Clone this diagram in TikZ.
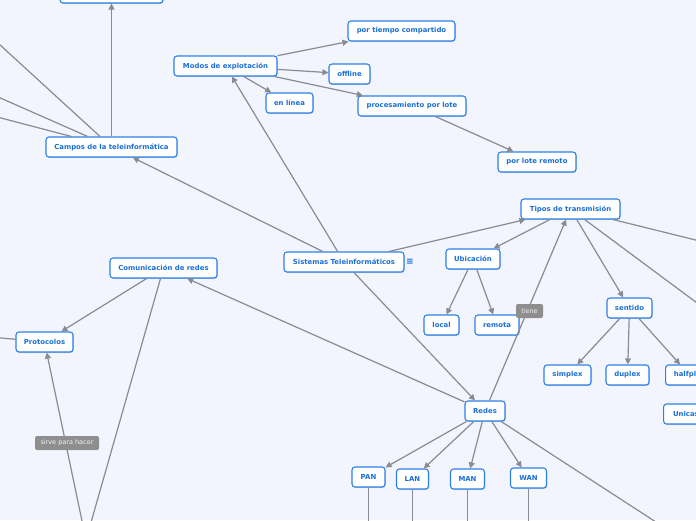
\documentclass[tikz,border=0pt]{standalone}
\usepackage{fontspec}
\setmainfont{DejaVu Sans}
\usetikzlibrary{arrows.meta,shadows}
\definecolor{bg}{HTML}{F2F5FD}
\definecolor{nodeblue}{HTML}{2E80E8}
\definecolor{txtblue}{HTML}{1A6FD8}
\definecolor{edgegray}{HTML}{8A8B91}
\definecolor{lblgray}{HTML}{8E8E8E}
\tikzset{
 topic/.style={draw=nodeblue, line width=1.1pt, fill=white, rounded corners=3pt,
   minimum height=20pt, inner xsep=0pt, inner ysep=0pt,
   font=\fontsize{6.9}{8}\selectfont\bfseries, text=txtblue,
   drop shadow={shadow xshift=0.6pt, shadow yshift=-0.9pt, opacity=0.3, fill=nodeblue!60!black}},
 conn/.style={draw=edgegray, line width=1.2pt, -{Triangle[length=6pt,width=6pt]}},
 plain/.style={draw=edgegray, line width=1.2pt},
 tag/.style={fill=lblgray, rounded corners=2pt, minimum height=14pt, inner xsep=0pt,
   inner ysep=0pt, text=white!90!gray, font=\fontsize{6.5}{8}\selectfont}
}
\begin{document}
\begin{tikzpicture}[x=1pt,y=-1pt]
\useasboundingbox (0,0) rectangle (696,520);
\clip (0,0) rectangle (696,520);
\fill[bg] (0,0) rectangle (696,520);
% nodes
\node[topic, minimum width=103pt, minimum height=22pt] (top) at (111.5,-8) {};
\node[topic, minimum width=131pt] (campos) at (111.5,147) {Campos de la teleinformática};
\node[topic, minimum width=103pt] (modos) at (225.5,66) {Modos de explotación};
\node[topic, minimum width=107pt] (tiempo) at (401.5,31) {por tiempo compartido};
\node[topic, minimum width=41pt] (offline) at (349.5,74) {offline};
\node[topic, minimum width=47pt] (linea) at (289.5,103) {en línea};
\node[topic, minimum width=108pt] (proc) at (412,106) {procesamiento por lote};
\node[topic, minimum width=78pt] (remoto) at (537,162) {por lote remoto};
\node[topic, minimum width=120pt] (sis) at (344,262) {Sistemas Teleinformáticos};
\node[text=txtblue, font=\fontsize{9}{9}\selectfont\bfseries, inner sep=0pt] (menu) at (410,262) {≡};
\node[topic, minimum width=99pt] (tipos) at (570.5,209) {Tipos de transmisión};
\node[topic, minimum width=54pt] (ubic) at (473,259) {Ubicación};
\node[topic, minimum width=35pt] (local) at (441.5,325) {local};
\node[topic, minimum width=44pt] (remota) at (497,325) {remota};
\node[topic, minimum width=45pt] (sentido) at (629.5,308) {sentido};
\node[topic, minimum width=47pt] (simplex) at (567.5,375) {simplex};
\node[topic, minimum width=43pt] (duplex) at (627.5,375) {duplex};
\node[topic, minimum width=48pt, anchor=west] (half) at (665,375) {halfplex};
\node[topic, minimum width=48pt, anchor=west] (unicast) at (663,414) {Unicast};
\node[topic, minimum width=107pt] (comu) at (163.5,268) {Comunicación de redes};
\node[topic, minimum width=57pt] (proto) at (44.5,342) {Protocolos};
\node[topic, minimum width=40pt] (redes) at (485,411) {Redes};
\node[topic, minimum width=33pt] (pan) at (368.5,477) {PAN};
\node[topic, minimum width=32pt] (lan) at (412.5,479) {LAN};
\node[topic, minimum width=34pt] (man) at (467.5,479) {MAN};
\node[topic, minimum width=36pt] (wan) at (528.5,478) {WAN};
% off-canvas ends
\coordinate (cA) at (-20,26.6);
\coordinate (cB) at (-20,89);
\coordinate (cC) at (-20,112.5);
\coordinate (pL) at (-20,336);
\coordinate (bot) at (86,540);
\coordinate (pD) at (368.5,540);
\coordinate (lD) at (412.5,540);
\coordinate (mD) at (467.5,540);
\coordinate (wD) at (528.5,540);
\coordinate (rBR) at (680.5,538);
\coordinate (tR1) at (720,320);
\coordinate (tR2) at (740,251);
% connectors
\draw[conn] (campos) -- (top);
\draw[plain] (cA) -- (campos);
\draw[plain] (cB) -- (campos);
\draw[plain] (cC) -- (campos);
\draw[conn] (sis) -- (campos);
\draw[conn] (sis) -- (modos);
\draw[conn] (modos) -- (tiempo);
\draw[conn] (modos) -- (offline);
\draw[conn] (modos) -- (linea);
\draw[conn] (modos) -- (proc);
\draw[conn] (proc) -- (remoto);
\draw[conn] (sis) -- (tipos);
\draw[conn] (sis) -- (redes);
\draw[conn] (tipos) -- (ubic);
\draw[conn] (redes) -- (tipos);
\draw[conn] (tipos) -- (sentido);
\draw[plain] (tipos) -- (tR1);
\draw[plain] (tipos) -- (tR2);
\draw[conn] (ubic) -- (local);
\draw[conn] (ubic) -- (remota);
\draw[conn] (sentido) -- (simplex);
\draw[conn] (sentido) -- (duplex);
\draw[conn] (sentido) -- (half);
\draw[conn] (redes) -- (comu);
\draw[conn] (comu) -- (proto);
\draw[plain] (comu) -- (bot);
\draw[conn] (bot) -- (proto);
\draw[plain] (pL) -- (proto);
\draw[conn] (redes) -- (pan);
\draw[conn] (redes) -- (lan);
\draw[conn] (redes) -- (man);
\draw[conn] (redes) -- (wan);
\draw[plain] (redes) -- (rBR);
\draw[plain] (pan) -- (pD);
\draw[plain] (lan) -- (lD);
\draw[plain] (man) -- (mD);
\draw[plain] (wan) -- (wD);
% connector labels
\node[tag, minimum width=27pt] (tiene) at (529.5,311) {tiene};
\node[tag, minimum width=64pt] (sirve) at (67,443) {sirve para hacer};
\end{tikzpicture}
\end{document}
